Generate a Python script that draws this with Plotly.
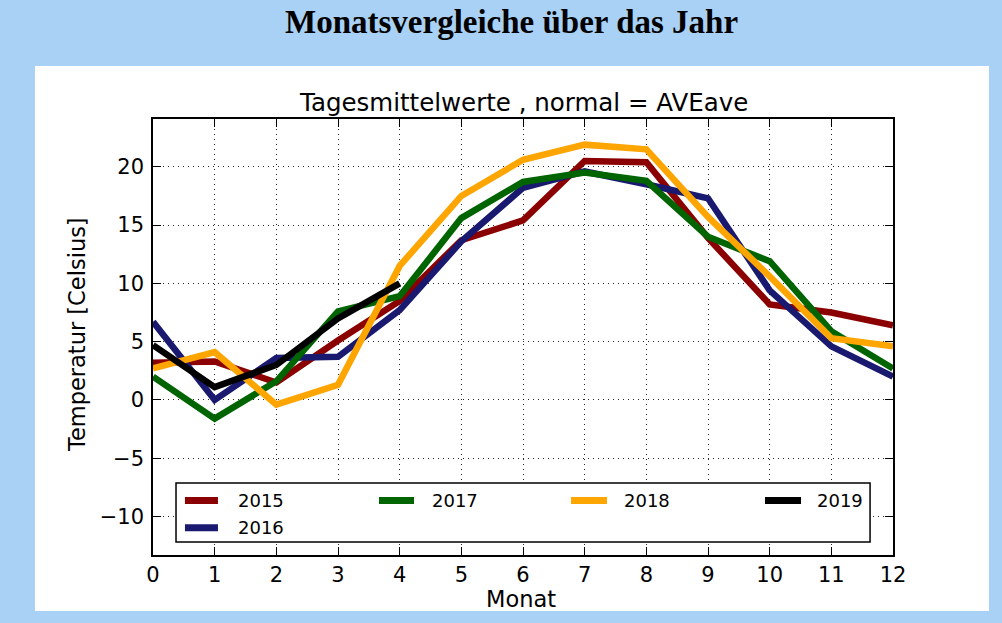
import plotly.graph_objects as go

# ---- data ----
months = list(range(13))
years = ["2015", "2016", "2017", "2018", "2019"]
t2015 = [3.2, 3.3, 1.5, 5.1, 8.5, 13.7, 15.4, 20.5, 20.4, 13.9, 8.2, 7.5, 6.4]
t2016 = [6.7, 0.0, 3.6, 3.7, 7.7, 13.6, 18.2, 19.6, 18.5, 17.3, 9.4, 4.6, 2.0]
t2017 = [2.0, -1.6, 1.6, 7.6, 8.9, 15.6, 18.7, 19.5, 18.8, 14.0, 11.9, 5.9, 2.7]
t2018 = [2.7, 4.1, -0.4, 1.3, 11.5, 17.5, 20.6, 21.9, 21.5, 15.7, 10.6, 5.3, 4.6]
t2019 = [4.7, 1.1, 3.0, 7.0, 10.0]
series = [t2015, t2016, t2017, t2018, t2019]
colors = ["#8B0000", "#191970", "#006400", "#FFA500", "#000000"]
xticks = list(range(13))
yticks = [-10, -5, 0, 5, 10, 15, 20]

BG = "#A9D0F5"
FONT = "DejaVu Sans"

fig = go.Figure()
for yr, vals, col in zip(years, series, colors):
    fig.add_trace(go.Scatter(x=months[:len(vals)], y=vals, mode="lines", name=yr,
                             line=dict(color=col, width=6.5), showlegend=False,
                             hoverinfo="skip"))

axis_common = dict(showline=True, linecolor="black", linewidth=1.5, mirror="allticks",
                   ticks="inside", ticklen=8, tickwidth=1.2, tickcolor="black",
                   showgrid=True, gridcolor="rgba(0,0,0,0.85)", gridwidth=1, griddash="1px,4px",
                   zeroline=False, tickfont=dict(family=FONT, size=21, color="black"))

fig.update_xaxes(range=[0, 12], tickvals=xticks, **axis_common)
fig.update_yaxes(range=[-13.3, 24.1], tickvals=yticks, ticklabelstandoff=3, **axis_common)

shapes = [
    # white panel
    dict(type="rect", xref="paper", yref="paper", x0=-0.1595, x1=1.1297, y0=-0.1284, y1=1.1216,
         fillcolor="white", line=dict(width=0), layer="below"),
    # legend frame
    dict(type="rect", xref="paper", yref="paper", x0=0.0311, x1=0.969, y0=0.0298, y1=0.1651,
         fillcolor="white", line=dict(color="black", width=1.5), layer="above"),
]
annotations = [
    dict(text="<b>Monatsvergleiche über das Jahr</b>", xref="paper", yref="paper", x=0.4851, y=1.2225,
         xanchor="center", yanchor="middle", showarrow=False,
         font=dict(family="Liberation Serif", size=33, color="black")),
    dict(text="Tagesmittelwerte , normal = AVEave", xref="paper", yref="paper", x=0.5, y=1.0367,
         xanchor="center", yanchor="middle", showarrow=False,
         font=dict(family=FONT, size=24.5, color="black")),
    dict(text="Monat", xref="paper", yref="paper", x=0.4973, y=-0.1009,
         xanchor="center", yanchor="middle", showarrow=False,
         font=dict(family=FONT, size=22.5, color="black")),
    dict(text="Temperatur [Celsius]", xref="paper", yref="paper", x=-0.1027, y=0.5046,
         xanchor="center", yanchor="middle", textangle=-90, showarrow=False,
         font=dict(family=FONT, size=22.5, color="black")),
]

# custom legend (matplotlib column-major layout, 4 columns)
leg_pos = {
    "2015": (0.0432, 0.0878, 0.1122, 0.125),
    "2016": (0.0432, 0.0878, 0.1122, 0.0626),
    "2017": (0.3054, 0.3527, 0.3743, 0.125),
    "2018": (0.5649, 0.6135, 0.6338, 0.125),
    "2019": (0.8270, 0.8757, 0.8946, 0.125),
}
for yr, col in zip(years, colors):
    s0, s1, tx, ty = leg_pos[yr]
    shapes.append(dict(type="line", xref="paper", yref="paper", x0=s0, x1=s1, y0=ty, y1=ty,
                       line=dict(color=col, width=7), layer="above"))
    annotations.append(dict(text=yr, xref="paper", yref="paper", x=tx, y=ty, xanchor="left",
                            yanchor="middle", showarrow=False,
                            font=dict(family=FONT, size=18, color="black")))

fig.update_layout(width=1002, height=623, margin=dict(l=153, r=109, t=119, b=68),
                  paper_bgcolor=BG, plot_bgcolor="white", shapes=shapes,
                  annotations=annotations, showlegend=False, hovermode=False)

fig.write_html("out.html", config={"displayModeBar": False},
               post_script="document.body.style.margin='0';document.body.style.background='" + BG + "';")
